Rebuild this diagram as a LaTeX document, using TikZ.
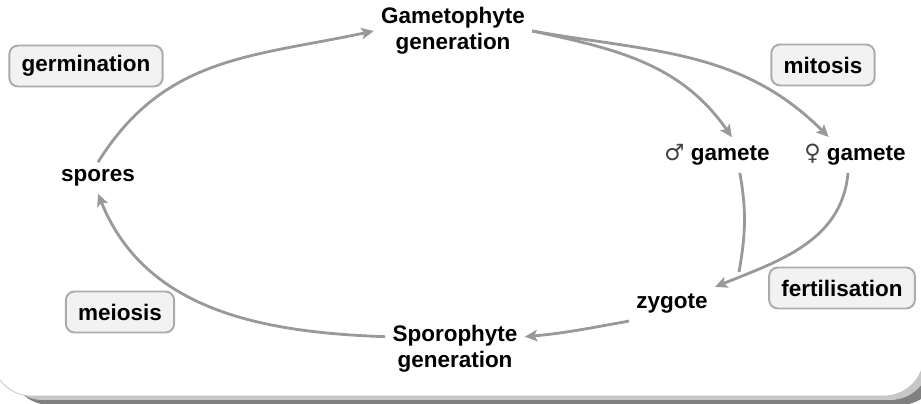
\documentclass[tikz,border=0pt]{standalone}
\usepackage{fontspec}
\setmainfont{Liberation Sans}
\newfontfamily\symfont{DejaVu Sans}
\usepackage{tikz}
\usetikzlibrary{arrows.meta, positioning, calc}

\begin{document}
\begin{tikzpicture}[
  x=0.02cm, y=-0.02cm,
  every node/.style={font=\fontsize{12.8}{15}\selectfont\bfseries},
  stage/.style={align=center, inner sep=4pt},
  proc/.style={draw=black!33, line width=1.1pt, rounded corners=5pt,
               fill=black!5, minimum height=0.82cm, inner xsep=7pt},
  arr/.style={-{Stealth[length=7pt, width=6.5pt, inset=1.5pt]},
              line width=1.6pt, black!40},
  link/.style={line width=1.6pt, black!40},
]

% Panel with shadow
\useasboundingbox (0,0) rectangle (921,404);
\begin{scope}
  \clip (0,0) rectangle (921,404);
  \fill[black!50, rounded corners=0.8cm] (10,-60) rectangle (940,405);
  \fill[black!22, rounded corners=0.8cm] (3,-60) rectangle (930,400);
  \filldraw[fill=white, draw=black!25, rounded corners=0.8cm] (-8,-60) rectangle (924,396);
\end{scope}

% Stages of the cycle
\node[stage] (gameto) at (453,31) {Gametophyte\\generation};
\node[stage] (sporo) at (455,349) {Sporophyte\\generation};
\node[stage] (spores) at (98,178) {spores};
\node[stage] (male) at (717,155) {{\symfont\mdseries\color{black!75}♂} gamete};
\node[stage] (female) at (855,155) {{\symfont\mdseries\color{black!75}♀} gamete};
\node[stage] (zygote) at (672,304) {zygote};

% Process labels
\node[proc] (germ) at (86,66) {germination};
\node[proc] (mit) at (823,65) {mitosis};
\node[proc] (mei) at (120,312) {meiosis};
\node[proc] (fert) at (842,288) {fertilisation};

% Arrows round the cycle
\draw[arr] (spores.north) to[out=58, in=192, looseness=1.05] (gameto.west);
\draw[arr] (gameto.east) to[out=-12, in=125] ([xshift=8.5pt]male.north);
\draw[arr] (gameto.east) to[out=-10, in=135] ([xshift=-15pt]female.north);
\coordinate (fuse) at (739,272);
\draw[arr] ([xshift=-4pt]female.south) to[out=-95, in=22] (zygote.north east);
\draw[link] ([xshift=13pt]male.south) to[out=-80, in=80] (fuse);
\draw[arr] (zygote.south west) to[out=190, in=5] ([yshift=7pt]sporo.east);
\draw[arr] ([yshift=7pt]sporo.west) to[out=178, in=-68] (spores.south);

\end{tikzpicture}
\end{document}
